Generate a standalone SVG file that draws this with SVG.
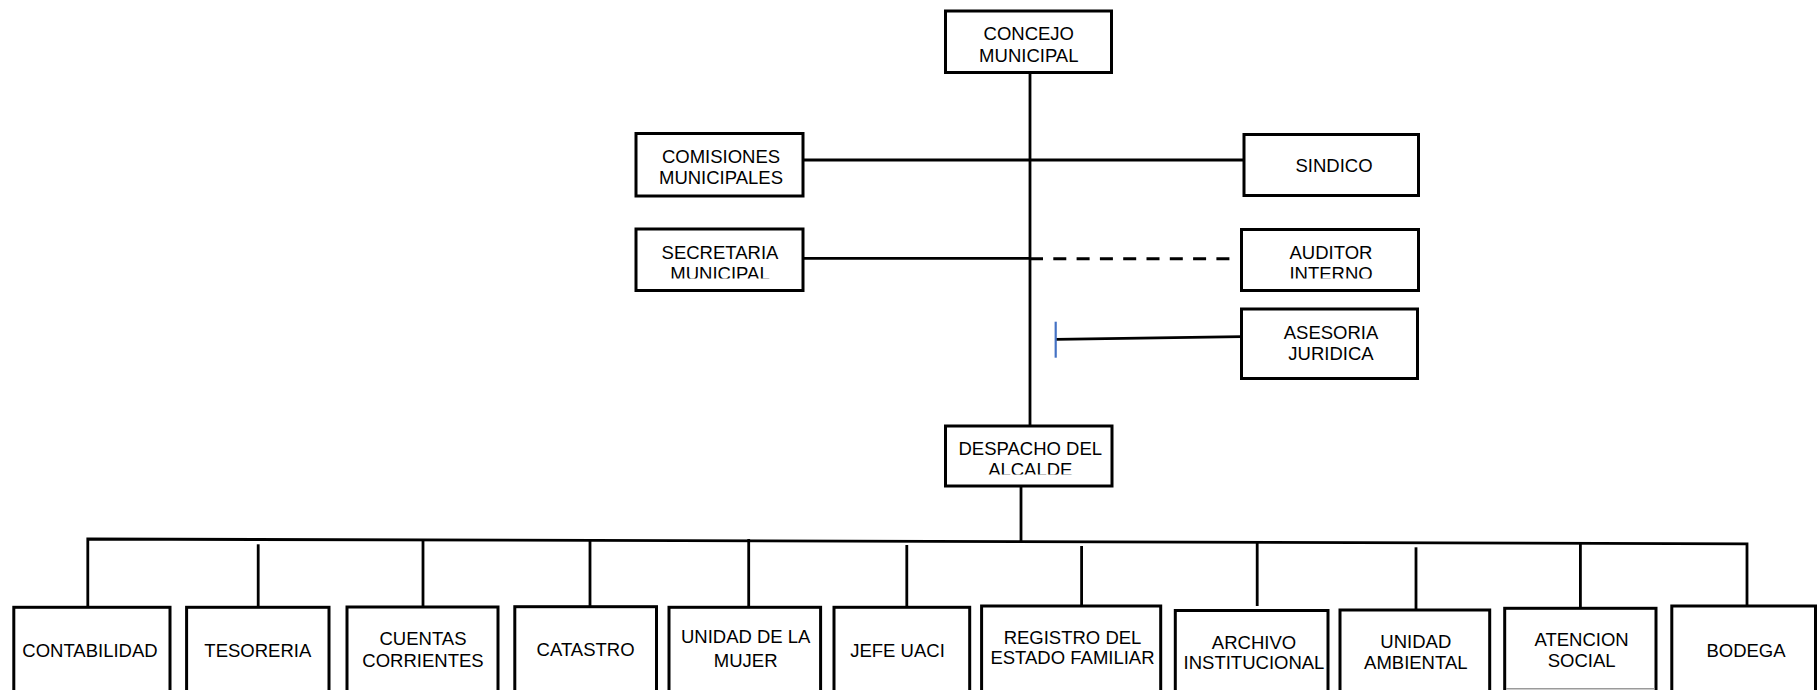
<svg xmlns="http://www.w3.org/2000/svg" width="1818" height="690" viewBox="0 0 1818 690">
<style>
.box{fill:#fff;stroke:#000;stroke-width:3}
.ln{fill:none;stroke:#000;stroke-width:2.8}
.dash{fill:none;stroke:#000;stroke-width:3;stroke-dasharray:13 10.3}
.tick{fill:none;stroke:#4472C4;stroke-width:2.2}
text{font-family:"Liberation Sans",Arial,sans-serif;font-size:18.5px;fill:#000;text-anchor:middle}
</style>
<defs>
<clipPath id="clipSec"><rect x="600" y="200" width="240" height="78.5"/></clipPath>
<clipPath id="clipAud"><rect x="1200" y="200" width="240" height="78.5"/></clipPath>
<clipPath id="clipDes"><rect x="900" y="400" width="240" height="74.5"/></clipPath>
</defs>
<rect width="1818" height="690" fill="#fff"/>
<g id="connectors">
<line class="ln" x1="1030" y1="72" x2="1030" y2="426"/>
<line class="ln" x1="803" y1="160" x2="1244" y2="160"/>
<line class="ln" x1="803" y1="258.3" x2="1030" y2="258.3"/>
<line class="dash" x1="1030" y1="258.8" x2="1231" y2="258.8"/>
<line class="ln" x1="1055.7" y1="339.3" x2="1241.5" y2="336.7"/>
<line class="tick" x1="1055.7" y1="321.7" x2="1055.7" y2="357.7"/>
<line class="ln" x1="1021" y1="486" x2="1021" y2="542"/>
<polyline class="ln" points="87.8,607.3 87.8,539 1747,543.8 1747,606"/>
<line class="ln" x1="258.2" y1="544.3" x2="258.2" y2="607.3"/>
<line class="ln" x1="423" y1="539.5" x2="423" y2="607"/>
<line class="ln" x1="590" y1="540" x2="590" y2="606.7"/>
<line class="ln" x1="748.7" y1="539" x2="748.7" y2="607.3"/>
<line class="ln" x1="906.8" y1="545" x2="906.8" y2="607.3"/>
<line class="ln" x1="1081.6" y1="546" x2="1081.6" y2="606"/>
<line class="ln" x1="1257.2" y1="542" x2="1257.2" y2="606"/>
<line class="ln" x1="1416" y1="547.3" x2="1416" y2="610"/>
<line class="ln" x1="1580.4" y1="543.3" x2="1580.4" y2="608.3"/>
</g>
<g id="concejo">
<rect class="box" x="945.5" y="11" width="166" height="61.5"/>
<text x="1028.8" y="40">CONCEJO</text>
<text x="1028.8" y="62">MUNICIPAL</text>
</g>
<g id="comisiones">
<rect class="box" x="636" y="133.5" width="167" height="62.5"/>
<text x="721" y="163">COMISIONES</text>
<text x="721" y="184.3">MUNICIPALES</text>
</g>
<g id="sindico">
<rect class="box" x="1244" y="134.5" width="174.5" height="61"/>
<text x="1334" y="172">SINDICO</text>
</g>
<g id="secretaria">
<rect class="box" x="636" y="229" width="167" height="61.5"/>
<text x="720" y="259">SECRETARIA</text>
<text x="720" y="279.5" clip-path="url(#clipSec)">MUNICIPAL</text>
</g>
<g id="auditor">
<rect class="box" x="1241.5" y="229.5" width="177" height="61"/>
<text x="1331" y="259">AUDITOR</text>
<text x="1331" y="279.5" clip-path="url(#clipAud)">INTERNO</text>
</g>
<g id="asesoria">
<rect class="box" x="1241.5" y="309" width="176" height="69.5"/>
<text x="1331" y="338.5">ASESORIA</text>
<text x="1331" y="360">JURIDICA</text>
</g>
<g id="despacho">
<rect class="box" x="945.5" y="426" width="166.5" height="60"/>
<text x="1030.3" y="455">DESPACHO DEL</text>
<text x="1030.3" y="475.6" clip-path="url(#clipDes)">ALCALDE</text>
</g>
<g id="contabilidad">
<rect class="box" x="13.8" y="607.3" width="156.2" height="100"/>
<text x="90" y="656.7">CONTABILIDAD</text>
</g>
<g id="tesoreria">
<rect class="box" x="186.6" y="607.3" width="142.4" height="100"/>
<text x="257.8" y="656.7">TESORERIA</text>
</g>
<g id="cuentas">
<rect class="box" x="347" y="607" width="151" height="100"/>
<text x="423" y="645">CUENTAS</text>
<text x="423" y="667.3">CORRIENTES</text>
</g>
<g id="catastro">
<rect class="box" x="514.8" y="606.7" width="141.7" height="100"/>
<text x="585.6" y="655.5">CATASTRO</text>
</g>
<g id="mujer">
<rect class="box" x="669" y="607.3" width="151.6" height="100"/>
<text x="745.7" y="643.3">UNIDAD DE LA</text>
<text x="745.7" y="666.7">MUJER</text>
</g>
<g id="uaci">
<rect class="box" x="834" y="607.3" width="135.7" height="100"/>
<text x="897.5" y="656.7">JEFE UACI</text>
</g>
<g id="registro">
<rect class="box" x="981.6" y="606" width="179.1" height="100"/>
<text x="1072.5" y="644">REGISTRO DEL</text>
<text x="1072.5" y="664">ESTADO FAMILIAR</text>
</g>
<g id="archivo">
<rect class="box" x="1175.3" y="610.5" width="152.7" height="100"/>
<text x="1254" y="649.3">ARCHIVO</text>
<text x="1254" y="669">INSTITUCIONAL</text>
</g>
<g id="ambiental">
<rect class="box" x="1340" y="610" width="149.7" height="100"/>
<text x="1415.8" y="648.3">UNIDAD</text>
<text x="1415.8" y="669">AMBIENTAL</text>
</g>
<g id="atencion">
<rect class="box" x="1504.7" y="608.3" width="151.3" height="100"/>
<line x1="1506" y1="688.8" x2="1654.7" y2="688.8" stroke="#9a9a9a" stroke-width="1.5"/>
<text x="1581.6" y="646">ATENCION</text>
<text x="1581.6" y="666.7">SOCIAL</text>
</g>
<g id="bodega">
<rect class="box" x="1671.8" y="606" width="143.7" height="100"/>
<text x="1746" y="656.7">BODEGA</text>
</g>
</svg>
